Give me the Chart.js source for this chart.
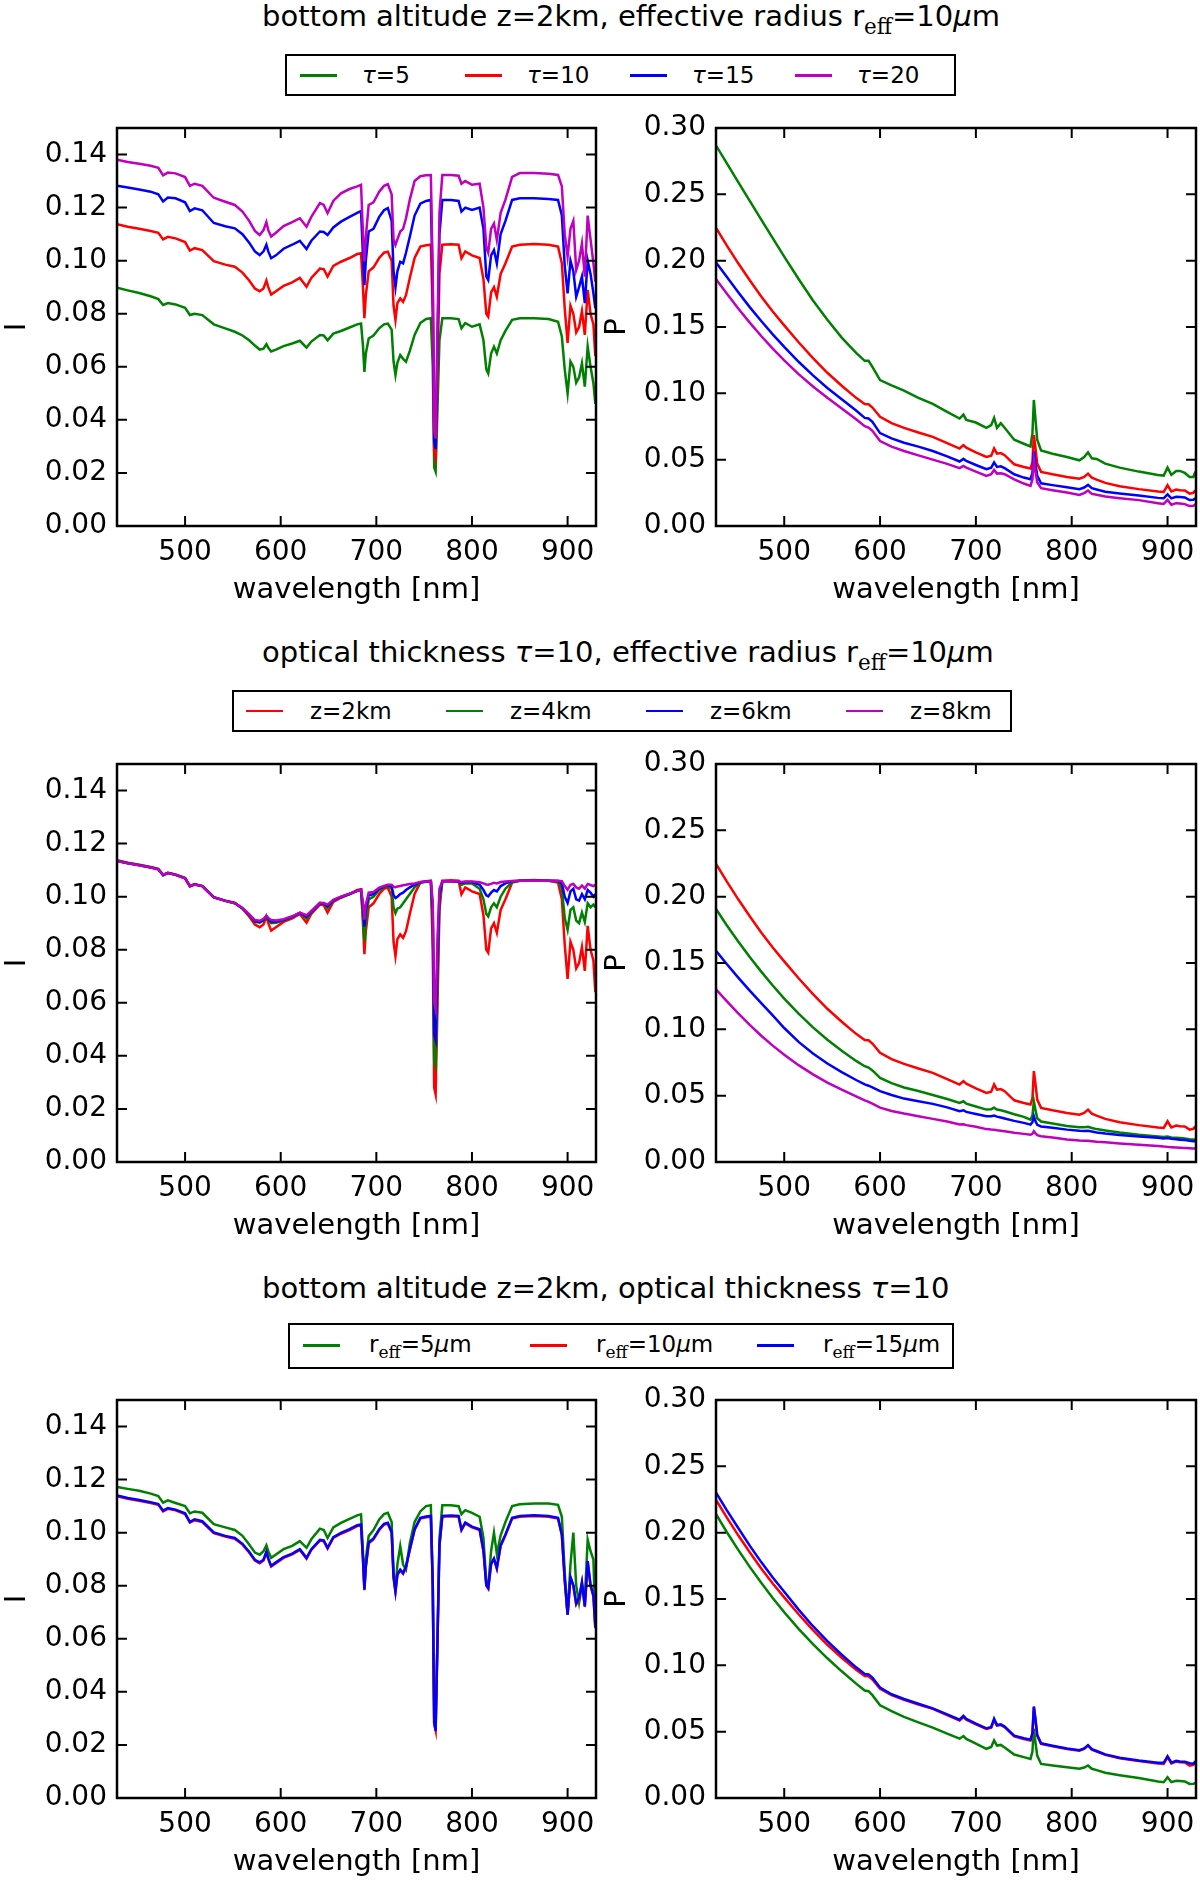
<!DOCTYPE html>
<html>
<head>
<meta charset="utf-8">
<script src="https://cdn.jsdelivr.net/npm/chart.js@4.4.1/dist/chart.umd.min.js"></script>
<style>
  body { margin: 0; background: #fff; font-family: 'DejaVu Sans', sans-serif; color: #000; }
  #page { position: relative; width: 1200px; height: 1880px; overflow: hidden; }
  canvas { position: absolute; }
  .title { position: absolute; left: 262px; font-size: 29px; line-height: 29px; white-space: nowrap; }
  .legend { position: absolute; box-sizing: border-box; border: 2px solid #000; display: flex; align-items: center; }
  .entry { display: flex; align-items: center; font-size: 23px; white-space: nowrap; flex: none; }
  .swatch { display: inline-block; width: 37px; }
  .sub { font-family: 'DejaVu Serif', serif; font-size: 0.74em; vertical-align: -0.35em; }
</style>
</head>
<body>
<div id="page"></div>
<script>
// ---------------------------------------------------------------
// Data
// ---------------------------------------------------------------

// wavelength grid for the radiance (I) spectra [nm]
const wlI = [
  429, 440, 452, 464, 472, 477, 482, 490, 500, 505, 510, 518, 530, 542, 552, 560, 567, 573, 578,
  582, 585, 587, 590, 595, 603, 612, 620, 627, 632, 641, 645, 649, 655, 663, 672, 680,
  684, 686, 687.5, 689, 692, 697, 703,
  708, 712, 716, 718, 720, 722, 725, 728, 731, 735, 740, 746,
  752, 757, 759, 760.5, 762, 764, 766, 769,
  778, 786, 789, 793, 800, 808, 812, 815, 817, 820, 823, 826, 830, 835, 842, 850,
  865, 880, 890, 894, 897, 900, 903, 906, 909, 912, 915, 918, 921, 924, 927, 929
];

// tau=10, z=2km, reff=10um (same case in all three rows)
const iBase = [
  0.1137, 0.1128, 0.1120, 0.1112, 0.1105, 0.1080, 0.1090, 0.1084, 0.1070, 0.1038, 0.1047, 0.1040, 0.0998, 0.0985, 0.0977, 0.0955, 0.0925, 0.0895, 0.0885,
  0.0895, 0.0925, 0.0900, 0.0872, 0.0885, 0.0905, 0.0918, 0.0935, 0.0902, 0.0935, 0.0970, 0.0968, 0.0940, 0.0980, 0.0996, 0.1010, 0.1025,
  0.1028, 0.0900, 0.0783, 0.0870, 0.0960, 0.0975, 0.1010,
  0.1030, 0.1034, 0.1000, 0.0830, 0.0776, 0.0840, 0.0858, 0.0845, 0.0870, 0.0935, 0.1010, 0.1053,
  0.1058, 0.1060, 0.0800, 0.0280, 0.0255, 0.0600, 0.0950, 0.1060,
  0.1062, 0.1060, 0.1009, 0.1035, 0.1020, 0.1010, 0.0930, 0.0800, 0.0789, 0.0880, 0.0900, 0.0864, 0.0950, 0.0990, 0.1053, 0.1060,
  0.1063, 0.1060, 0.1053, 0.0990, 0.0820, 0.0690, 0.0830, 0.0800, 0.0730, 0.0750, 0.0810, 0.0720, 0.0890, 0.0800, 0.0760, 0.0640
];
const iTau5 = [
  0.0898, 0.0888, 0.0878, 0.0866, 0.0855, 0.0833, 0.0840, 0.0835, 0.0822, 0.0795, 0.0800, 0.0795, 0.0760, 0.0745, 0.0732, 0.0718, 0.0700, 0.0680, 0.0665,
  0.0668, 0.0685, 0.0672, 0.0658, 0.0665, 0.0678, 0.0688, 0.0698, 0.0672, 0.0695, 0.0720, 0.0718, 0.0700, 0.0725, 0.0735, 0.0748, 0.0760,
  0.0763, 0.0680, 0.0581, 0.0650, 0.0707, 0.0718, 0.0745,
  0.0760, 0.0763, 0.0740, 0.0620, 0.0569, 0.0615, 0.0644, 0.0630, 0.0619, 0.0660, 0.0720, 0.0765,
  0.0780, 0.0783, 0.0600, 0.0220, 0.0205, 0.0450, 0.0700, 0.0783,
  0.0783, 0.0780, 0.0745, 0.0765, 0.0751, 0.0760, 0.0700, 0.0590, 0.0575, 0.0650, 0.0676, 0.0650, 0.0700, 0.0735, 0.0777, 0.0783,
  0.0783, 0.0780, 0.0770, 0.0714, 0.0590, 0.0500, 0.0620, 0.0600, 0.0540, 0.0560, 0.0613, 0.0525, 0.0676, 0.0600, 0.0538, 0.0460
];
const iTau15 = [
  0.1282, 0.1276, 0.1268, 0.1260, 0.1250, 0.1223, 0.1238, 0.1235, 0.1220, 0.1187, 0.1197, 0.1190, 0.1142, 0.1130, 0.1122, 0.1100, 0.1068, 0.1035, 0.1021,
  0.1035, 0.1060, 0.1035, 0.1009, 0.1020, 0.1045, 0.1060, 0.1075, 0.1044, 0.1075, 0.1110, 0.1108, 0.1097, 0.1125, 0.1147, 0.1165, 0.1180,
  0.1187, 0.1020, 0.0908, 0.1000, 0.1110, 0.1120, 0.1165,
  0.1190, 0.1198, 0.1150, 0.0960, 0.0900, 0.0960, 0.0996, 0.0990, 0.1030, 0.1090, 0.1170, 0.1215,
  0.1225, 0.1229, 0.0900, 0.0320, 0.0290, 0.0700, 0.1100, 0.1229,
  0.1229, 0.1225, 0.1185, 0.1200, 0.1191, 0.1200, 0.1120, 0.0940, 0.0927, 0.1020, 0.1040, 0.0990, 0.1100, 0.1150, 0.1229, 0.1235,
  0.1235, 0.1232, 0.1229, 0.1170, 0.0980, 0.0877, 0.1000, 0.0960, 0.0864, 0.0900, 0.0940, 0.0840, 0.1000, 0.0950, 0.0877, 0.0820
];
const iTau20 = [
  0.1380, 0.1372, 0.1365, 0.1358, 0.1350, 0.1322, 0.1332, 0.1329, 0.1315, 0.1282, 0.1290, 0.1282, 0.1237, 0.1222, 0.1210, 0.1185, 0.1150, 0.1112, 0.1097,
  0.1115, 0.1145, 0.1115, 0.1091, 0.1105, 0.1130, 0.1145, 0.1160, 0.1128, 0.1165, 0.1217, 0.1210, 0.1179, 0.1225, 0.1254, 0.1270, 0.1280,
  0.1286, 0.1100, 0.0996, 0.1090, 0.1210, 0.1220, 0.1260,
  0.1282, 0.1288, 0.1250, 0.1080, 0.1059, 0.1080, 0.1110, 0.1120, 0.1160, 0.1230, 0.1300, 0.1318,
  0.1322, 0.1323, 0.0950, 0.0360, 0.0330, 0.0750, 0.1180, 0.1323,
  0.1323, 0.1320, 0.1290, 0.1300, 0.1286, 0.1290, 0.1200, 0.1050, 0.1030, 0.1120, 0.1140, 0.1078, 0.1180, 0.1230, 0.1316, 0.1330,
  0.1330, 0.1328, 0.1323, 0.1280, 0.1100, 0.1015, 0.1120, 0.1150, 0.0965, 0.1000, 0.1065, 0.0940, 0.1170, 0.1080, 0.0990, 0.0920
];
const iZ4 = [
  0.1135, 0.1127, 0.1119, 0.1111, 0.1104, 0.1082, 0.1090, 0.1083, 0.1070, 0.1040, 0.1047, 0.1040, 0.0998, 0.0985, 0.0976, 0.0956, 0.0930, 0.0905, 0.0902,
  0.0910, 0.0926, 0.0912, 0.0900, 0.0902, 0.0910, 0.0922, 0.0938, 0.0918, 0.0940, 0.0975, 0.0972, 0.0958, 0.0985, 0.0998, 0.1010, 0.1022,
  0.1026, 0.0930, 0.0831, 0.0910, 0.0990, 0.1000, 0.1025,
  0.1035, 0.1040, 0.1030, 0.0960, 0.0938, 0.0955, 0.0960, 0.0975, 0.0990, 0.1010, 0.1035, 0.1052,
  0.1056, 0.1058, 0.0900, 0.0380, 0.0360, 0.0700, 0.0980, 0.1058,
  0.1058, 0.1056, 0.1045, 0.1050, 0.1050, 0.1030, 0.0990, 0.0935, 0.0926, 0.0960, 0.0975, 0.0960, 0.1000, 0.1030, 0.1055, 0.1060,
  0.1060, 0.1060, 0.1058, 0.1030, 0.0920, 0.0875, 0.0950, 0.0960, 0.0910, 0.0900, 0.0940, 0.0905, 0.0975, 0.0960, 0.0970, 0.0960
];
const iZ6 = [
  0.1134, 0.1126, 0.1118, 0.1110, 0.1103, 0.1082, 0.1089, 0.1082, 0.1069, 0.1040, 0.1046, 0.1040, 0.0997, 0.0984, 0.0975, 0.0956, 0.0932, 0.0908, 0.0905,
  0.0913, 0.0927, 0.0916, 0.0906, 0.0906, 0.0912, 0.0924, 0.0939, 0.0925, 0.0943, 0.0976, 0.0974, 0.0964, 0.0986, 0.0999, 0.1010, 0.1022,
  0.1026, 0.0960, 0.0888, 0.0950, 0.1005, 0.1010, 0.1030,
  0.1038, 0.1043, 0.1040, 0.1005, 0.0995, 0.1000, 0.1010, 0.1015, 0.1025, 0.1035, 0.1045, 0.1054,
  0.1057, 0.1058, 0.0950, 0.0480, 0.0460, 0.0780, 0.1010, 0.1058,
  0.1058, 0.1057, 0.1052, 0.1055, 0.1055, 0.1045, 0.1025, 0.1005, 0.1001, 0.1015, 0.1025, 0.1020, 0.1040, 0.1050, 0.1058, 0.1060,
  0.1060, 0.1060, 0.1059, 0.1050, 0.1000, 0.0976, 0.1020, 0.1030, 0.0990, 0.0985, 0.1010, 0.0990, 0.1025, 0.1015, 0.1000, 0.1010
];
const iZ8 = [
  0.1134, 0.1126, 0.1118, 0.1110, 0.1103, 0.1083, 0.1089, 0.1082, 0.1069, 0.1041, 0.1046, 0.1040, 0.0997, 0.0984, 0.0975, 0.0957, 0.0934, 0.0912, 0.0909,
  0.0916, 0.0928, 0.0920, 0.0912, 0.0910, 0.0915, 0.0926, 0.0940, 0.0930, 0.0946, 0.0977, 0.0976, 0.0970, 0.0988, 0.1000, 0.1011, 0.1022,
  0.1026, 0.0980, 0.0913, 0.0970, 0.1015, 0.1018, 0.1034,
  0.1040, 0.1045, 0.1045, 0.1038, 0.1036, 0.1038, 0.1040, 0.1043, 0.1045, 0.1048, 0.1050, 0.1055,
  0.1057, 0.1058, 0.0980, 0.0600, 0.0574, 0.0850, 0.1030, 0.1058,
  0.1058, 0.1058, 0.1055, 0.1057, 0.1057, 0.1054, 0.1050, 0.1046, 0.1045, 0.1048, 0.1052, 0.1050, 0.1055, 0.1057, 0.1059, 0.1060,
  0.1060, 0.1060, 0.1060, 0.1058, 0.1040, 0.1026, 0.1045, 0.1048, 0.1035, 0.1030, 0.1042, 0.1030, 0.1048, 0.1044, 0.1040, 0.1045
];
const iR5 = [
  0.1172, 0.1165, 0.1158, 0.1147, 0.1138, 0.1113, 0.1122, 0.1112, 0.1100, 0.1073, 0.1080, 0.1075, 0.1032, 0.1020, 0.1010, 0.0988, 0.0955, 0.0925, 0.0917,
  0.0930, 0.0952, 0.0930, 0.0905, 0.0918, 0.0938, 0.0950, 0.0968, 0.0943, 0.0975, 0.1015, 0.1010, 0.0980, 0.1020, 0.1037, 0.1052, 0.1065,
  0.1069, 0.0930, 0.0798, 0.0900, 0.0987, 0.1010, 0.1050,
  0.1070, 0.1075, 0.1040, 0.0850, 0.0785, 0.0880, 0.0949, 0.0880, 0.0861, 0.0960, 0.1040, 0.1080,
  0.1100, 0.1103, 0.0800, 0.0300, 0.0280, 0.0620, 0.0980, 0.1103,
  0.1103, 0.1100, 0.1070, 0.1085, 0.1075, 0.1060, 0.0980, 0.0810, 0.0798, 0.0930, 0.1000, 0.0920, 0.0990, 0.1040, 0.1100, 0.1107,
  0.1110, 0.1110, 0.1105, 0.1060, 0.0850, 0.0690, 0.0880, 0.1000, 0.0800, 0.0735, 0.0800, 0.0750, 0.0974, 0.0930, 0.0899, 0.0660
];
const iR15 = [
  0.1140, 0.1131, 0.1123, 0.1115, 0.1108, 0.1083, 0.1093, 0.1087, 0.1073, 0.1041, 0.1050, 0.1043, 0.1001, 0.0988, 0.0980, 0.0958, 0.0928, 0.0898, 0.0888,
  0.0898, 0.0928, 0.0903, 0.0875, 0.0888, 0.0908, 0.0921, 0.0938, 0.0905, 0.0938, 0.0973, 0.0971, 0.0943, 0.0983, 0.0999, 0.1013, 0.1028,
  0.1031, 0.0903, 0.0786, 0.0873, 0.0963, 0.0978, 0.1013,
  0.1033, 0.1037, 0.1003, 0.0833, 0.0779, 0.0843, 0.0861, 0.0848, 0.0873, 0.0938, 0.1013, 0.1056,
  0.1061, 0.1063, 0.0803, 0.0283, 0.0253, 0.0603, 0.0953, 0.1063,
  0.1065, 0.1063, 0.1012, 0.1038, 0.1023, 0.1013, 0.0933, 0.0803, 0.0792, 0.0883, 0.0903, 0.0867, 0.0953, 0.0993, 0.1056, 0.1063,
  0.1066, 0.1063, 0.1056, 0.0993, 0.0823, 0.0692, 0.0833, 0.0803, 0.0733, 0.0753, 0.0813, 0.0723, 0.0893, 0.0803, 0.0763, 0.0643
];

// wavelength grid for the polarized (P) spectra [nm]
const wlP = [
  429, 440, 452, 464, 476, 488, 500, 515, 530, 545, 560, 575, 584, 588, 592, 600,
  612, 625, 640, 655, 670, 683, 687, 690, 700, 711, 716, 719, 722, 726, 730,
  740, 750, 757, 759, 760.5, 762, 764, 768, 780, 795, 808, 813, 817, 821, 826,
  835, 850, 870, 890, 896, 900, 904, 909, 913, 918, 923, 927, 929
];
const pBase = [
  0.2245, 0.2115, 0.1980, 0.1852, 0.1730, 0.1617, 0.1512, 0.1385, 0.1265, 0.1155, 0.1057, 0.0966, 0.0920, 0.0918, 0.0893, 0.0823,
  0.0775, 0.0740, 0.0705, 0.0672, 0.0625, 0.0584, 0.0610, 0.0590, 0.0555, 0.0521, 0.0530, 0.0584, 0.0545, 0.0550, 0.0534,
  0.0465, 0.0445, 0.0433, 0.0480, 0.0685, 0.0600, 0.0470, 0.0408, 0.0390, 0.0370, 0.0357, 0.0370, 0.0395, 0.0365, 0.0350,
  0.0325, 0.0300, 0.0278, 0.0260, 0.0257, 0.0307, 0.0260, 0.0275, 0.0270, 0.0268, 0.0244, 0.0250, 0.0270
];
const pTau5 = [
  0.2866, 0.2735, 0.2592, 0.2450, 0.2310, 0.2170, 0.2030, 0.1862, 0.1700, 0.1555, 0.1420, 0.1305, 0.1245, 0.1245, 0.1200, 0.1100,
  0.1060, 0.1020, 0.0965, 0.0920, 0.0860, 0.0810, 0.0840, 0.0800, 0.0780, 0.0740, 0.0760, 0.0815, 0.0740, 0.0775, 0.0740,
  0.0650, 0.0620, 0.0600, 0.0700, 0.0950, 0.0820, 0.0650, 0.0570, 0.0545, 0.0520, 0.0495, 0.0520, 0.0555, 0.0510, 0.0505,
  0.0470, 0.0440, 0.0410, 0.0385, 0.0380, 0.0440, 0.0385, 0.0415, 0.0415, 0.0400, 0.0370, 0.0370, 0.0410
];
const pTau15 = [
  0.1985, 0.1878, 0.1762, 0.1650, 0.1545, 0.1445, 0.1350, 0.1238, 0.1135, 0.1040, 0.0955, 0.0870, 0.0815, 0.0810, 0.0785, 0.0700,
  0.0660, 0.0628, 0.0598, 0.0565, 0.0525, 0.0486, 0.0506, 0.0490, 0.0460, 0.0428, 0.0440, 0.0479, 0.0445, 0.0450, 0.0436,
  0.0390, 0.0365, 0.0353, 0.0400, 0.0562, 0.0480, 0.0380, 0.0322, 0.0308, 0.0292, 0.0277, 0.0290, 0.0310, 0.0285, 0.0275,
  0.0258, 0.0245, 0.0230, 0.0212, 0.0209, 0.0239, 0.0208, 0.0220, 0.0218, 0.0215, 0.0196, 0.0198, 0.0210
];
const pTau20 = [
  0.1859, 0.1752, 0.1640, 0.1533, 0.1432, 0.1337, 0.1248, 0.1145, 0.1052, 0.0966, 0.0885, 0.0805, 0.0752, 0.0742, 0.0718, 0.0640,
  0.0598, 0.0565, 0.0532, 0.0500, 0.0468, 0.0436, 0.0453, 0.0440, 0.0410, 0.0378, 0.0390, 0.0423, 0.0395, 0.0398, 0.0390,
  0.0352, 0.0320, 0.0302, 0.0350, 0.0499, 0.0420, 0.0330, 0.0285, 0.0270, 0.0252, 0.0234, 0.0248, 0.0267, 0.0242, 0.0235,
  0.0222, 0.0210, 0.0195, 0.0172, 0.0166, 0.0196, 0.0160, 0.0172, 0.0170, 0.0165, 0.0150, 0.0152, 0.0165
];
const pZ4 = [
  0.1905, 0.1785, 0.1662, 0.1545, 0.1435, 0.1330, 0.1232, 0.1118, 0.1015, 0.0922, 0.0838, 0.0762, 0.0722, 0.0712, 0.0690, 0.0634,
  0.0595, 0.0562, 0.0535, 0.0505, 0.0475, 0.0446, 0.0458, 0.0440, 0.0418, 0.0395, 0.0398, 0.0410, 0.0396, 0.0390, 0.0382,
  0.0360, 0.0340, 0.0320, 0.0350, 0.0458, 0.0400, 0.0330, 0.0305, 0.0290, 0.0272, 0.0262, 0.0262, 0.0265, 0.0256, 0.0248,
  0.0238, 0.0222, 0.0205, 0.0192, 0.0188, 0.0192, 0.0185, 0.0182, 0.0180, 0.0177, 0.0172, 0.0170, 0.0169
];
const pZ6 = [
  0.1590, 0.1492, 0.1390, 0.1292, 0.1198, 0.1105, 0.1010, 0.0905, 0.0818, 0.0742, 0.0677, 0.0618, 0.0585, 0.0575, 0.0563, 0.0534,
  0.0505, 0.0478, 0.0458, 0.0438, 0.0412, 0.0383, 0.0390, 0.0378, 0.0362, 0.0345, 0.0345, 0.0350, 0.0342, 0.0335, 0.0328,
  0.0310, 0.0295, 0.0282, 0.0300, 0.0345, 0.0310, 0.0280, 0.0268, 0.0258, 0.0244, 0.0236, 0.0234, 0.0235, 0.0230, 0.0223,
  0.0214, 0.0204, 0.0192, 0.0182, 0.0178, 0.0180, 0.0175, 0.0172, 0.0168, 0.0165, 0.0160, 0.0157, 0.0156
];
const pZ8 = [
  0.1300, 0.1212, 0.1120, 0.1033, 0.0952, 0.0877, 0.0808, 0.0730, 0.0661, 0.0599, 0.0545, 0.0495, 0.0464, 0.0453, 0.0440, 0.0410,
  0.0385, 0.0365, 0.0345, 0.0325, 0.0305, 0.0283, 0.0284, 0.0278, 0.0265, 0.0248, 0.0245, 0.0244, 0.0240, 0.0236, 0.0232,
  0.0221, 0.0212, 0.0206, 0.0212, 0.0232, 0.0218, 0.0202, 0.0194, 0.0184, 0.0170, 0.0162, 0.0160, 0.0160, 0.0157, 0.0153,
  0.0148, 0.0140, 0.0130, 0.0120, 0.0116, 0.0114, 0.0112, 0.0110, 0.0108, 0.0106, 0.0104, 0.0102, 0.0101
];
const pR5 = [
  0.2137, 0.2005, 0.1870, 0.1742, 0.1622, 0.1508, 0.1400, 0.1275, 0.1160, 0.1053, 0.0955, 0.0862, 0.0810, 0.0805, 0.0775, 0.0699,
  0.0655, 0.0612, 0.0570, 0.0530, 0.0485, 0.0447, 0.0467, 0.0445, 0.0410, 0.0371, 0.0385, 0.0434, 0.0395, 0.0400, 0.0380,
  0.0328, 0.0308, 0.0295, 0.0350, 0.0522, 0.0430, 0.0320, 0.0257, 0.0245, 0.0232, 0.0220, 0.0230, 0.0245, 0.0220, 0.0210,
  0.0190, 0.0172, 0.0150, 0.0125, 0.0119, 0.0156, 0.0120, 0.0130, 0.0128, 0.0125, 0.0106, 0.0108, 0.0112
];
const pR15 = [
  0.2300, 0.2170, 0.2035, 0.1902, 0.1778, 0.1662, 0.1555, 0.1420, 0.1295, 0.1182, 0.1080, 0.0985, 0.0935, 0.0932, 0.0907, 0.0832,
  0.0782, 0.0746, 0.0710, 0.0676, 0.0630, 0.0590, 0.0620, 0.0596, 0.0560, 0.0525, 0.0535, 0.0598, 0.0550, 0.0555, 0.0538,
  0.0470, 0.0450, 0.0440, 0.0490, 0.0690, 0.0605, 0.0475, 0.0412, 0.0394, 0.0373, 0.0360, 0.0373, 0.0398, 0.0368, 0.0354,
  0.0329, 0.0304, 0.0283, 0.0266, 0.0265, 0.0315, 0.0266, 0.0281, 0.0276, 0.0274, 0.0262, 0.0258, 0.0278
];

// axis ticks
const xTicks = [500, 600, 700, 800, 900];
const iTicks = [0, 0.02, 0.04, 0.06, 0.08, 0.10, 0.12, 0.14];
const pTicks = [0, 0.05, 0.10, 0.15, 0.20, 0.25, 0.30];

// matplotlib classic colours
const colors = { g: '#008000', r: '#ff0000', b: '#0000ff', m: '#bf00bf' };

const sub = '<span class="sub">eff</span>';
const rows = [
  {
    top: 128,
    title: 'bottom altitude z=2km, effective radius r' + sub + '=10<i>μ</i>m',
    legend: { left: 285, top: 54, width: 671, height: 42, pad: 13, step: 165, gap: 25, lw: 3 },
    labels: ['<i>τ</i>=5', '<i>τ</i>=10', '<i>τ</i>=15', '<i>τ</i>=20'],
    colors: [colors.g, colors.r, colors.b, colors.m],
    I: [iTau5, iBase, iTau15, iTau20],
    P: [pTau5, pBase, pTau15, pTau20]
  },
  {
    top: 764,
    title: 'optical thickness <i>τ</i>=10, effective radius r' + sub + '=10<i>μ</i>m',
    legend: { left: 232, top: 690, width: 780, height: 42, pad: 12, step: 200, gap: 27, lw: 2 },
    labels: ['z=2km', 'z=4km', 'z=6km', 'z=8km'],
    colors: [colors.r, colors.g, colors.b, colors.m],
    I: [iBase, iZ4, iZ6, iZ8],
    P: [pBase, pZ4, pZ6, pZ8]
  },
  {
    top: 1400,
    title: 'bottom altitude z=2km, optical thickness <i>τ</i>=10',
    legend: { left: 288, top: 1323, width: 666, height: 46, pad: 13, step: 227, gap: 29, lw: 3 },
    labels: ['r' + sub + '=5<i>μ</i>m', 'r' + sub + '=10<i>μ</i>m', 'r' + sub + '=15<i>μ</i>m'],
    colors: [colors.g, colors.r, colors.b],
    I: [iR5, iBase, iR15],
    P: [pR5, pBase, pR15]
  }
];

// ---------------------------------------------------------------
// frame + inward ticks on all four sides (matplotlib classic look)
// ---------------------------------------------------------------
const framePlugin = {
  id: 'frame',
  afterDatasetsDraw(chart) {
    const { ctx, chartArea: a, scales: { x, y } } = chart;
    ctx.save();
    ctx.strokeStyle = '#000';
    ctx.lineWidth = 2;
    ctx.beginPath();
    xTicks.forEach(v => {
      const px = x.getPixelForValue(v);
      ctx.moveTo(px, a.bottom); ctx.lineTo(px, a.bottom - 10);
      ctx.moveTo(px, a.top); ctx.lineTo(px, a.top + 10);
    });
    y.ticks.forEach(t => {
      const py = y.getPixelForValue(t.value);
      ctx.moveTo(a.left, py); ctx.lineTo(a.left + 10, py);
      ctx.moveTo(a.right, py); ctx.lineTo(a.right - 10, py);
    });
    ctx.stroke();
    ctx.lineWidth = 2.5;
    ctx.strokeRect(a.left, a.top, a.right - a.left, a.bottom - a.top);
    ctx.restore();
  }
};

Chart.defaults.font.family = "'DejaVu Sans', sans-serif";
Chart.defaults.color = '#000';

const TOP_PAD = 20;
const X_AXIS_H = 84;

function makeChart(el, wl, seriesList, lineColors, yMax, yTicks, yLabel, yAxisWidth, rightPad) {
  return new Chart(el.getContext('2d'), {
    type: 'line',
    data: {
      datasets: seriesList.map((vals, i) => ({
        data: wl.map((w, k) => ({ x: w, y: vals[k] })),
        borderColor: lineColors[i],
        borderWidth: 2.5,
        pointRadius: 0,
        fill: false,
        tension: 0,
        order: -i
      }))
    },
    options: {
      responsive: false,
      animation: false,
      devicePixelRatio: 1,
      layout: { padding: { top: TOP_PAD, right: rightPad, left: 0, bottom: 0 } },
      plugins: { legend: { display: false }, tooltip: { enabled: false } },
      scales: {
        x: {
          type: 'linear',
          min: 428.8,
          max: 929.7,
          grid: { display: false, drawTicks: false },
          border: { display: false },
          afterBuildTicks: s => { s.ticks = xTicks.map(v => ({ value: v })); },
          afterFit: s => { s.height = X_AXIS_H; s.paddingLeft = 0; s.paddingRight = 0; },
          ticks: {
            color: '#000', padding: 10, maxRotation: 0, autoSkip: false,
            font: { size: 28 },
            callback: v => String(v)
          },
          title: {
            display: true, text: 'wavelength [nm]', color: '#000',
            font: { size: 29 }, padding: { top: 0, bottom: 2 }
          }
        },
        y: {
          min: 0,
          max: yMax,
          grid: { display: false, drawTicks: false },
          border: { display: false },
          afterBuildTicks: s => { s.ticks = yTicks.map(v => ({ value: v })); },
          afterFit: s => { s.width = yAxisWidth; s.paddingTop = 0; s.paddingBottom = 0; },
          ticks: {
            color: '#000', padding: 10, autoSkip: false,
            font: { size: 28 },
            callback: v => Number(v).toFixed(2)
          },
          title: {
            display: true, text: yLabel, color: '#000',
            font: { size: 29 }, padding: { top: 0, bottom: 0 }
          }
        }
      }
    },
    plugins: [framePlugin]
  });
}

const page = document.getElementById('page');

rows.forEach(row => {
  // figure title
  const t = document.createElement('div');
  t.className = 'title';
  t.style.top = (row.top - 126) + 'px';
  t.innerHTML = row.title;
  page.appendChild(t);

  // shared legend box
  const L = row.legend;
  const box = document.createElement('div');
  box.className = 'legend';
  Object.assign(box.style, {
    left: L.left + 'px', top: L.top + 'px', width: L.width + 'px', height: L.height + 'px',
    paddingLeft: L.pad + 'px'
  });
  row.labels.forEach((lab, i) => {
    const e = document.createElement('div');
    e.className = 'entry';
    e.style.width = L.step + 'px';
    e.innerHTML = '<span class="swatch" style="background:' + row.colors[i] +
      ';height:' + L.lw + 'px;margin-right:' + L.gap + 'px"></span><span>' + lab + '</span>';
    box.appendChild(e);
  });
  page.appendChild(box);

  // left (I) and right (P) panels
  const h = TOP_PAD + 398 + X_AXIS_H;
  const cI = document.createElement('canvas');
  cI.width = 606; cI.height = h;
  Object.assign(cI.style, { left: '0px', top: (row.top - TOP_PAD) + 'px', width: '606px', height: h + 'px' });
  page.appendChild(cI);
  makeChart(cI, wlI, row.I, row.colors, 0.15, iTicks, 'I', 117, 10);

  const cP = document.createElement('canvas');
  cP.width = 600; cP.height = h;
  Object.assign(cP.style, { left: '600px', top: (row.top - TOP_PAD) + 'px', width: '600px', height: h + 'px' });
  page.appendChild(cP);
  makeChart(cP, wlP, row.P, row.colors, 0.30, pTicks, 'P', 116, 4);
});
</script>
</body>
</html>
